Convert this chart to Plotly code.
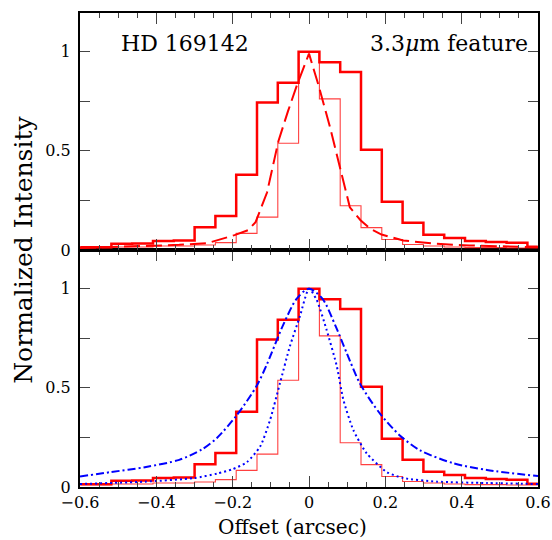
import plotly.graph_objects as go

# ---------------- data ----------------
BIN_WIDTH = 0.0545  # arcsec per pixel bin
bin_index = list(range(-11, 12))
bin_centers = [k * BIN_WIDTH for k in bin_index]

# thick histogram (3.3 micron feature profile)
feature_profile = [0.014, 0.014, 0.032, 0.033, 0.046, 0.048, 0.115, 0.172, 0.38, 0.744, 0.843,
                   1.0,
                   0.947, 0.897, 0.506, 0.243, 0.137, 0.077, 0.061, 0.045, 0.040, 0.037, 0.017]

# thin histogram (continuum / PSF reference)
continuum_profile = [0.012, 0.012, 0.015, 0.015, 0.02, 0.02, 0.025, 0.037, 0.084, 0.166, 0.538,
                     1.0,
                     0.762, 0.223, 0.113, 0.053, 0.028, 0.02, 0.015, 0.012, 0.012, 0.01, 0.01]

# dashed red curve (top panel)
dashed_x = [-0.6, -0.52, -0.43, -0.34, -0.265, -0.195, -0.16, -0.14, -0.11, -0.08, -0.055, -0.03,
            0.0, 0.025, 0.055, 0.08, 0.107, 0.135, 0.16, 0.19, 0.247, 0.335, 0.42, 0.6]
dashed_y = [0.01, 0.014, 0.019, 0.026, 0.035, 0.075, 0.10, 0.14, 0.29, 0.55, 0.70, 0.84,
            0.99, 0.83, 0.62, 0.42, 0.215, 0.15, 0.108, 0.078, 0.048, 0.031, 0.023, 0.014]

# blue dash-dot curve (bottom panel, broad model)
dashdot_x = [-0.6, -0.52, -0.43, -0.34, -0.28, -0.24, -0.19, -0.137, -0.11, -0.067, -0.032,
             0.0, 0.035, 0.07, 0.1, 0.134, 0.186, 0.238, 0.291, 0.378, 0.466, 0.6]
dashdot_y = [0.053, 0.075, 0.10, 0.137, 0.19, 0.25, 0.36, 0.51, 0.62, 0.82, 0.95,
             1.0, 0.95, 0.81, 0.67, 0.52, 0.37, 0.26, 0.185, 0.12, 0.086, 0.055]

# blue dotted curve (bottom panel, narrow model)
dotted_x = [-0.6, -0.43, -0.3, -0.24, -0.2, -0.163, -0.128, -0.102, -0.076, -0.05, -0.024,
            0.0, 0.02, 0.046, 0.073, 0.09, 0.116, 0.151, 0.204, 0.247, 0.335, 0.466, 0.6]
dotted_y = [0.015, 0.027, 0.045, 0.068, 0.09, 0.125, 0.204, 0.338, 0.524, 0.71, 0.86,
            1.0, 0.944, 0.793, 0.608, 0.44, 0.288, 0.17, 0.075, 0.045, 0.027, 0.02, 0.015]

x_tick_vals = [-0.6, -0.4, -0.2, 0, 0.2, 0.4, 0.6]
x_tick_text = ["\u22120.6", "\u22120.4", "\u22120.2", "0", "0.2", "0.4", "0.6"]
y_tick_vals = [0, 0.25, 0.5, 0.75, 1]
y_tick_text = ["0", "", "0.5", "", "1"]

# ---------------- figure ----------------
FONT = "DejaVu Serif"
RED = "#ff0000"
BLUE = "#0000ff"

fig = go.Figure()

def add_hist(yvals, width, color, yaxis, xaxis):
    fig.add_trace(go.Scatter(x=bin_centers, y=yvals, mode="lines", line_shape="hvh",
                             line=dict(color=color, width=width),
                             xaxis=xaxis, yaxis=yaxis, showlegend=False, hoverinfo="skip"))

# top panel
add_hist(continuum_profile, 1.1, "rgba(255,0,0,0.75)", "y2", "x2")
add_hist(feature_profile, 2.5, RED, "y2", "x2")
fig.add_trace(go.Scatter(x=dashed_x, y=dashed_y, mode="lines",
                         line=dict(color=RED, width=2, dash="16px,6px"),
                         xaxis="x2", yaxis="y2", showlegend=False))

# bottom panel
add_hist(continuum_profile, 1.1, "rgba(255,0,0,0.75)", "y", "x")
add_hist(feature_profile, 2.5, RED, "y", "x")
fig.add_trace(go.Scatter(x=dashdot_x, y=dashdot_y, mode="lines", line_shape="spline",
                         line=dict(color=BLUE, width=2, dash="8px,3px,2px,3px", smoothing=0.8),
                         xaxis="x", yaxis="y", showlegend=False))
fig.add_trace(go.Scatter(x=dotted_x, y=dotted_y, mode="lines", line_shape="spline",
                         line=dict(color=BLUE, width=2, dash="2px,3px", smoothing=0.6),
                         xaxis="x", yaxis="y", showlegend=False))

xcommon = dict(range=[-0.6, 0.6], tickvals=x_tick_vals, ticktext=x_tick_text,
               ticks="inside", ticklen=11, tickwidth=1.3, tickcolor="#444",
               minor=dict(dtick=0.05, tick0=0, ticks="inside", ticklen=5, tickwidth=1, tickcolor="#444"),
               showline=True, linecolor="black", linewidth=2, mirror="allticks",
               showgrid=False, zeroline=False, automargin=False,
               tickfont=dict(family=FONT, size=16, color="black"))
ycommon = dict(range=[0, 1.195], tickvals=y_tick_vals, ticktext=y_tick_text,
               ticks="inside", ticklen=10, tickwidth=1.3, tickcolor="#444",
               showline=True, linecolor="black", linewidth=2, mirror="allticks",
               showgrid=False, zeroline=False, ticklabelstandoff=4, automargin=False,
               tickfont=dict(family=FONT, size=16, color="black"))

fig.update_layout(
    width=552, height=540,
    margin=dict(l=80, r=14, t=13, b=53, autoexpand=False),
    paper_bgcolor="white", plot_bgcolor="white",
    xaxis=dict(**xcommon, anchor="y", domain=[0, 1]),
    yaxis=dict(**ycommon, anchor="x", domain=[0, 0.5]),
    xaxis2=dict(**xcommon, anchor="y2", matches="x"),
    yaxis2=dict(**ycommon, anchor="x2", domain=[0.5, 1]),
)
fig.update_layout(xaxis2_showticklabels=False)

fig.add_annotation(text="HD 169142", x=-0.498, y=1.04, xref="x2", yref="y2",
                   xanchor="left", yanchor="middle", showarrow=False,
                   font=dict(family=FONT, size=22, color="black"))
fig.add_annotation(text="3.3<i>\u03bc</i>m feature", x=0.579, y=1.04, xref="x2", yref="y2",
                   xanchor="right", yanchor="middle", showarrow=False,
                   font=dict(family=FONT, size=22, color="black"))
fig.add_annotation(text="Offset (arcsec)", x=0.464, y=-0.085, xref="paper", yref="paper",
                   xanchor="center", yanchor="middle", showarrow=False,
                   font=dict(family=FONT, size=20, color="black"))
fig.add_annotation(text="Normalized Intensity", x=-0.125, y=0.5, xref="paper", yref="paper",
                   xanchor="center", yanchor="middle", textangle=-90, showarrow=False,
                   font=dict(family=FONT, size=25, color="black"))

fig.write_html("out.html", config={"displayModeBar": False},
               post_script="document.body.style.margin='0';document.body.style.overflow='hidden';")
